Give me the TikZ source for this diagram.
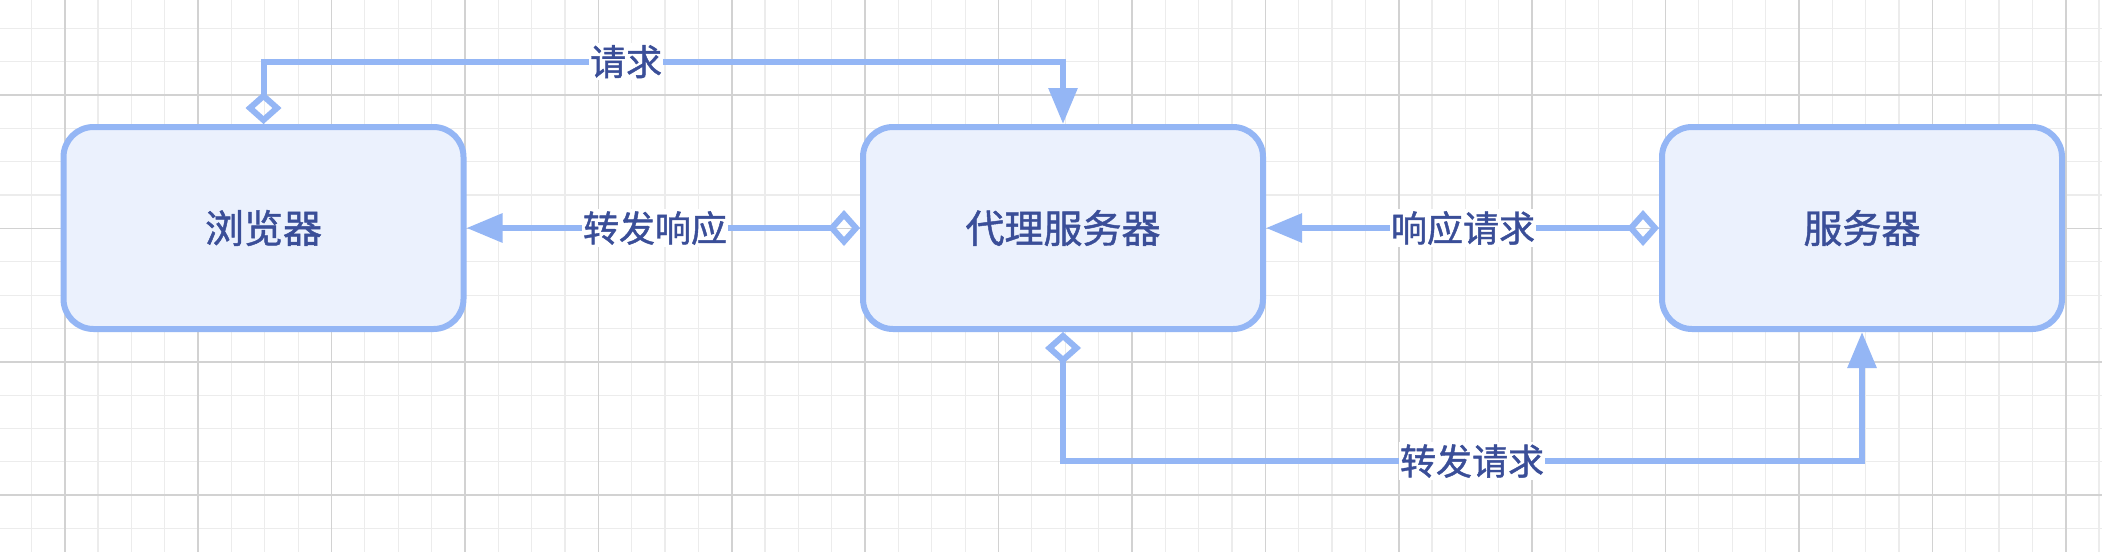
\documentclass[tikz,border=0pt]{standalone}
\usepackage{fontspec}
\setmainfont{Noto Sans CJK SC}
\newfontfamily\cjkmed{Noto Sans CJK SC}[FakeBold=1.2]
\usetikzlibrary{arrows.meta}
\definecolor{linec}{RGB}{148,182,245}
\definecolor{fillc}{RGB}{235,241,253}
\definecolor{textc}{RGB}{58,78,152}
\definecolor{gridminor}{RGB}{236,236,236}
\definecolor{gridmajor}{RGB}{210,210,210}
\tikzset{
  box/.style={draw=linec, fill=fillc, line width=3pt, rounded corners=15pt,
    minimum width=200pt, minimum height=101pt, text=textc,
    font=\cjkmed\fontsize{19.5pt}{23pt}\selectfont},
  lab/.style={fill=white, text=textc, inner xsep=0.5pt, inner ysep=1pt,
    font=\cjkmed\fontsize{18pt}{21pt}\selectfont},
  conn/.style={draw=linec, line width=3pt},
  dtip/.style={{Diamond[open,length=16pt,width=18pt,line width=3pt]}-{Triangle[length=18pt,width=14pt]}}
}
\begin{document}
\begin{tikzpicture}[x=0.5pt,y=-0.5pt]
\useasboundingbox (0,0) rectangle (2102,552);
\fill[white] (0,0) rectangle (2102,552);
% grid
\begin{scope}
\clip (0,0) rectangle (2102,552);
\foreach \i in {-2,...,62} {
  \draw[gridminor, line width=0.6pt] ({64.7+33.35*\i},0) -- ({64.7+33.35*\i},552);
}
\foreach \j in {-3,...,14} {
  \draw[gridminor, line width=0.6pt] (0,{95+33.35*\j}) -- (2102,{95+33.35*\j});
}
\foreach \i in {-1,...,15} {
  \draw[gridmajor, line width=0.8pt] ({64.7+133.4*\i},0) -- ({64.7+133.4*\i},552);
}
\foreach \j in {-1,...,4} {
  \draw[gridmajor, line width=0.8pt] (0,{95+133.4*\j}) -- (2102,{95+133.4*\j});
}
\end{scope}
% nodes
\node[box] (browser) at (263.5,228) {浏览器};
\node[box] (proxy) at (1063,228) {代理服务器};
\node[box] (server) at (1862,228) {服务器};
\coordinate (t1) at (263.5,61.6);
\coordinate (b1) at (1063,461);
% connectors
\draw[conn, dtip] (browser.north) -- (t1) -| (proxy.north);
\draw[conn, dtip] (proxy.west) -- (browser.east);
\draw[conn, dtip] (server.west) -- (proxy.east);
\draw[conn, dtip] (proxy.south) -- (b1) -| (server.south);
% labels
\node[lab] (l1) at (626,61.6) {请求};
\node[lab] (l2) at (655,228) {转发响应};
\node[lab] (l3) at (1463,228) {响应请求};
\node[lab] (l4) at (1472,461) {转发请求};
\end{tikzpicture}
\end{document}
